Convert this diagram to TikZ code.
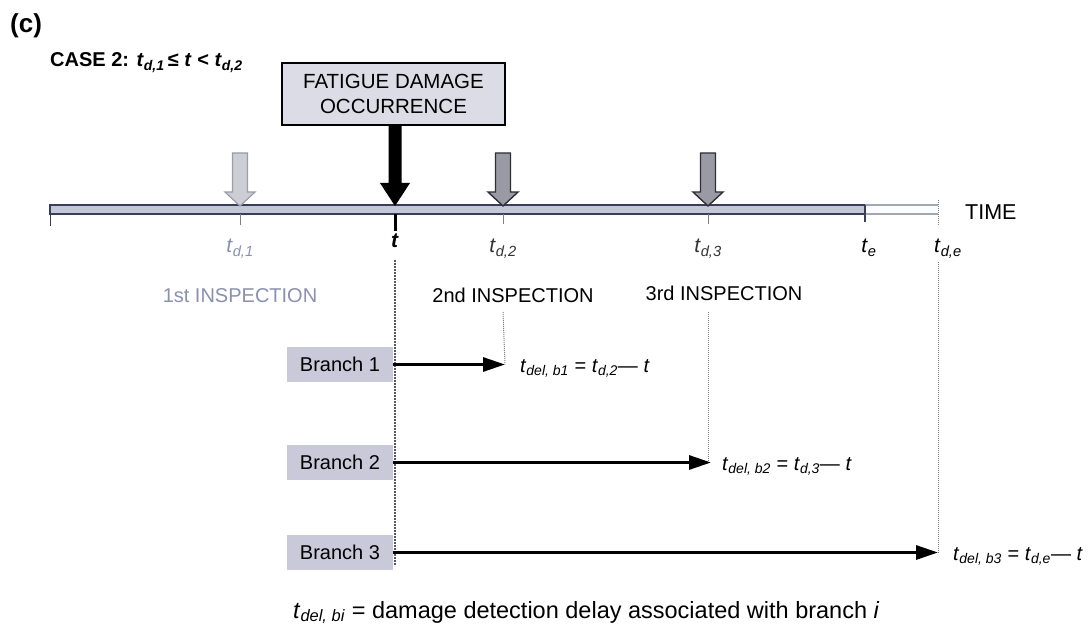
\documentclass[tikz,border=0pt]{standalone}
\usepackage{fontspec}
\setmainfont{Liberation Sans}
\usetikzlibrary{arrows.meta}

\definecolor{boxfill}{HTML}{DCDCE6}
\definecolor{branchfill}{HTML}{C9C9DA}
\definecolor{barfill}{HTML}{C4C7D7}
\definecolor{bardark}{HTML}{3A3E58}
\definecolor{barlight}{HTML}{A4A6B0}
\definecolor{firstfill}{HTML}{CDCDD6}
\definecolor{firstedge}{HTML}{9A9CA8}
\definecolor{laterfill}{HTML}{9A9AA4}
\definecolor{lateredge}{HTML}{2E2E36}
\definecolor{firsttext}{HTML}{8A90B0}
\definecolor{tickgray}{HTML}{7C7E8C}

% italic time symbol with an italic subscript (keeps the current weight)
\newcommand\tsb[1]{\textit{t}\textsubscript{\textit{#1}}}

\begin{document}
\begin{tikzpicture}[x=1pt,y=-1pt,
  big/.style={font=\fontsize{20}{25}\selectfont},
  lbl/.style={big, inner sep=0pt},
  ticklbl/.style={inner sep=0pt, font=\fontsize{21}{25}\selectfont},
  branchbox/.style={big, fill=branchfill, minimum width=106pt, minimum height=35pt, inner sep=0pt},
  branchline/.style={line width=3pt, -{Triangle[length=22pt,width=14pt]}},
  guide/.style={draw=tickgray, densely dotted, line width=1pt},
  tick/.style={draw=tickgray, line width=1pt},
  blockarrow/.pic={
    \path[pic actions] (-7.5,-53) -- (7.5,-53) -- (7.5,-14) -- (15,-14)
      -- (0,0) -- (-15,-14) -- (-7.5,-14) -- cycle;
  },
  damagearrow/.pic={
    \path[pic actions] (-6.5,-81) -- (6.5,-81) -- (6.5,-23) -- (15,-23)
      -- (0,0) -- (-15,-23) -- (-6.5,-23) -- cycle;
  }]
\useasboundingbox (0,0) rectangle (1089,636);

% heading
\node[anchor=base west, inner sep=0pt, font=\fontsize{26}{30}\selectfont\bfseries] (tag) at (10,33) {(c)};
\node[anchor=base west, inner sep=0pt, font=\fontsize{20}{24}\selectfont\bfseries] (case) at (50,67)
  {CASE 2: \tsb{d,1}\,≤ \textit{t} < \tsb{d,2}};

% time axis positions
\coordinate (t0)  at (50,209.5);
\coordinate (td1) at (240,206);
\coordinate (tt)  at (395,206);
\coordinate (td2) at (503,206);
\coordinate (td3) at (708,206);
\coordinate (te)  at (865,209.5);
\coordinate (tde) at (938,209.5);

% time axis bar
\draw[fill=barfill, draw=bardark, line width=1.5pt] (50,205) rectangle (865,214);
\fill[white!94!barfill] (865,205) rectangle (938,214);
\draw[draw=barlight, line width=1.3pt] (865,205) -- (938,205) (865,214) -- (938,214);
\draw[guide] (938,200) -- (938,225);
\draw[bardark, line width=1pt] (50,205) -- (50,226);
\draw[bardark, line width=1.2pt] (865,205) -- (865,222);
\node[anchor=base west, inner sep=0pt, font=\fontsize{21.5}{25}\selectfont] (time) at (965,220) {TIME};

% ticks under the bar
\draw[tick] (240,214) -- (240,225);
\draw[tick] (503,214) -- (503,224);
\draw[tick] (708,214) -- (708,224);
\draw[black, line width=3pt] (395,214) -- (395,231);

% tick labels
\node[ticklbl, anchor=base, text=firsttext] (ld1) at (240,253) {\tsb{d,1}};
\node[ticklbl, anchor=base, font=\fontsize{21}{25}\selectfont\bfseries] (lt) at (395,248) {\textit{t}};
\node[ticklbl, anchor=base, text=black!80] (ld2) at (503,253) {\tsb{d,2}};
\node[ticklbl, anchor=base, text=black!80] (ld3) at (708,253) {\tsb{d,3}};
\node[ticklbl, anchor=base] (le) at (869,253) {\tsb{e}};
\node[ticklbl, anchor=base west] (lde) at (934,253) {\tsb{d,e}};

% inspection arrows
\pic[fill=firstfill, draw=firstedge, line width=1.2pt] at (td1) {blockarrow};
\pic[fill=laterfill, draw=lateredge, line width=1.4pt] at (td2) {blockarrow};
\pic[fill=laterfill, draw=lateredge, line width=1.4pt] at (td3) {blockarrow};

% damage occurrence
\node[font=\fontsize{20.5}{25}\selectfont, draw=black, line width=1.2pt, fill=boxfill,
  minimum width=223pt, minimum height=62pt, align=center, inner sep=0pt] (occ) at (393.5,94)
  {FATIGUE DAMAGE\\OCCURRENCE};
\pic[fill=black] at (tt) {damagearrow};

% inspection labels
\node[lbl, anchor=base, text=firsttext] (i1) at (240,302) {1st INSPECTION};
\node[lbl, anchor=base] (i2) at (513,302) {2nd INSPECTION};
\node[lbl, anchor=base] (i3) at (724,300) {3rd INSPECTION};

% branches
\node[branchbox] (b1) at (340,364.5) {Branch 1};
\node[branchbox] (b2) at (340,462.5) {Branch 2};
\node[branchbox] (b3) at (340,552.5) {Branch 3};

\coordinate (e1) at (505,364.5);
\coordinate (e2) at (711,462.5);
\coordinate (e3) at (938,552.5);

% guide lines down from the time axis
\draw[draw=black!65, densely dotted, line width=2pt] (395,260) -- (395,566);
\draw[guide] (503,312) -- (e1);
\draw[guide] (708,312) -- (708,462.5);
\draw[guide] (938,262) -- (e3);

\draw[branchline] (b1.east) -- (e1);
\draw[branchline] (b2.east) -- (e2);
\draw[branchline] (b3.east) -- (e3);

% detection delays
\node[lbl, anchor=base west] (d1) at (520,372) {\tsb{del, b1} = \tsb{d,2}— \textit{t}};
\node[lbl, anchor=base west] (d2) at (722,470) {\tsb{del, b2} = \tsb{d,3}— \textit{t}};
\node[lbl, anchor=base west] (d3) at (953,560) {\tsb{del, b3} = \tsb{d,e}— \textit{t}};

% legend
\node[font=\fontsize{23.5}{28}\selectfont, anchor=base west, inner sep=0pt] (legend) at (293,618)
  {\tsb{del, bi} = damage detection delay associated with branch \textit{i}};
\end{tikzpicture}
\end{document}
